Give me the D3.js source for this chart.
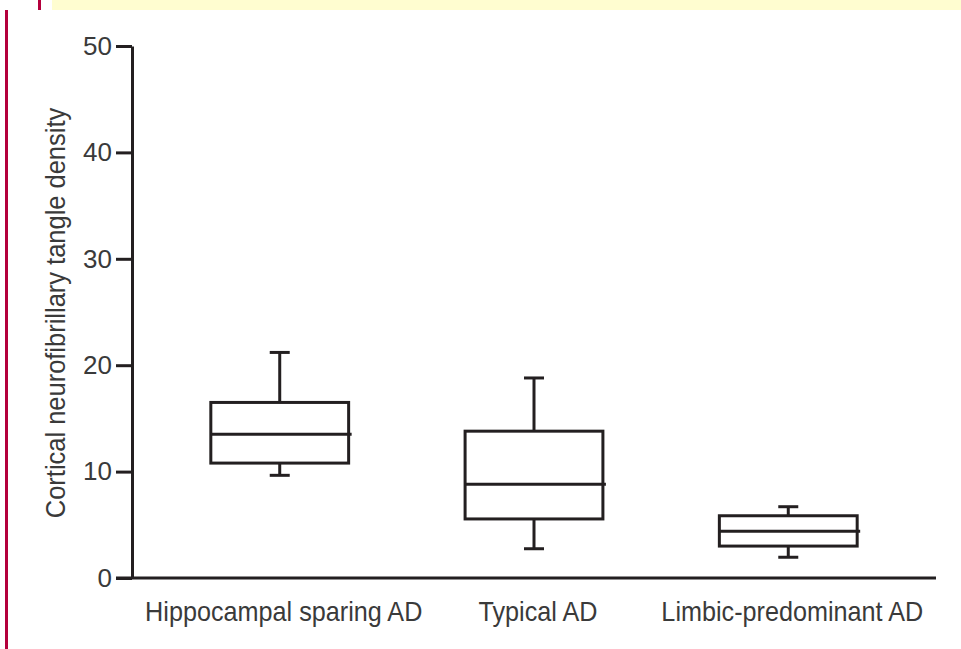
<!DOCTYPE html>
<meta charset="utf-8">
<style>
  body { margin: 0; background: #fff; }
  svg text { font-family: "Liberation Sans", sans-serif; fill: #3a3a3a; }
</style>
<body>
<script src="https://cdn.jsdelivr.net/npm/d3@7"></script>
<script>

    var width = 961,
        height = 649;

    // data
    var groups = ["Hippocampal sparing AD", "Typical AD", "Limbic-predominant AD"];
    var whiskerLow = [9.65, 2.75, 1.95];
    var q1 = [10.8, 5.55, 3.0];
    var medians = [13.5, 8.8, 4.4];
    var q3 = [16.5, 13.8, 5.85];
    var whiskerHigh = [21.2, 18.8, 6.7];
    var yTicks = [0, 10, 20, 30, 40, 50];

    var ink = "#231f20";

    var svg = d3.select("body").append("svg")
            .attr("width", width)
            .attr("height", height);

    // page decoration: yellow band and red margin rule
    svg.append("rect").attr("x", 52).attr("y", 0).attr("width", 909).attr("height", 10).attr("fill", "#fffdd0");
    svg.append("rect").attr("x", 38).attr("y", 0).attr("width", 3).attr("height", 10).attr("fill", "#b4003c");
    svg.append("rect").attr("x", 5).attr("y", 10).attr("width", 3).attr("height", height - 10).attr("fill", "#b4003c");

    var y = d3.scaleLinear().domain([0, 50]).range([578, 46]);
    var x = d3.scaleBand().domain(groups).range([132, 936])
            .paddingInner(0.458).paddingOuter(0.31);

    // y axis
    var yAxis = svg.append("g")
            .attr("transform", "translate(132,0)")
            .call(d3.axisLeft(y).tickValues(yTicks).tickSize(16).tickSizeOuter(0).tickPadding(4));
    yAxis.select(".domain").attr("stroke", ink).attr("stroke-width", 3);
    yAxis.selectAll(".tick line").attr("stroke", ink).attr("stroke-width", 3);
    yAxis.selectAll(".tick text").style("font-size", "26px").attr("fill", "#3a3a3a");

    // x axis line (extends left like a tick)
    svg.append("line")
            .attr("x1", 116).attr("x2", 936)
            .attr("y1", y(0)).attr("y2", y(0))
            .attr("stroke", ink).attr("stroke-width", 3);

    // category labels (condensed look)
    svg.selectAll(".cat").data(groups).enter().append("text")
            .attr("class", "cat")
            .attr("transform", function(d) {
                return "translate(" + (x(d) + x.bandwidth() / 2 + 4) + ",621) scale(0.9,1)";
            })
            .attr("text-anchor", "middle")
            .style("font-size", "28px")
            .text(function(d) { return d; });

    // y label
    svg.append("text")
            .attr("transform", "translate(65,313) rotate(-90) scale(0.91,1)")
            .attr("text-anchor", "middle")
            .style("font-size", "28px")
            .text("Cortical neurofibrillary tangle density");

    // boxes
    var capW = 20;
    groups.forEach(function(g, i) {
        var x0 = x(g), bw = x.bandwidth(), cx = x0 + bw / 2;
        var b = svg.append("g").attr("stroke", ink).attr("stroke-width", 3).attr("fill", "none");
        b.append("line").attr("x1", cx).attr("x2", cx).attr("y1", y(whiskerHigh[i])).attr("y2", y(q3[i]));
        b.append("line").attr("x1", cx).attr("x2", cx).attr("y1", y(q1[i])).attr("y2", y(whiskerLow[i]));
        b.append("line").attr("x1", cx - capW / 2).attr("x2", cx + capW / 2).attr("y1", y(whiskerHigh[i])).attr("y2", y(whiskerHigh[i]));
        b.append("line").attr("x1", cx - capW / 2).attr("x2", cx + capW / 2).attr("y1", y(whiskerLow[i])).attr("y2", y(whiskerLow[i]));
        b.append("rect").attr("x", x0).attr("width", bw)
                .attr("y", y(q3[i])).attr("height", y(q1[i]) - y(q3[i]));
        b.append("line").attr("x1", x0).attr("x2", x0 + bw + 3).attr("y1", y(medians[i])).attr("y2", y(medians[i]));
    });

</script>
